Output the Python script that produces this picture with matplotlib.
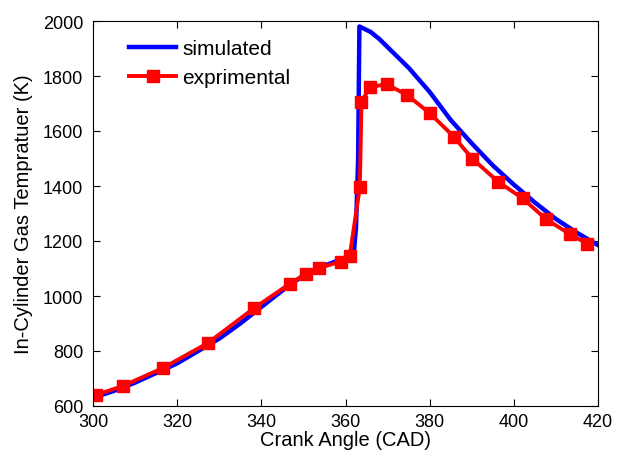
import matplotlib
matplotlib.use("Agg")
import matplotlib.pyplot as plt

# simulated in-cylinder temperature
sim_cad = [300, 305, 310, 315, 320, 325, 330, 335, 340, 345, 350, 355, 360,
           362, 362.5, 363, 363.3, 364, 366, 368, 371, 375, 380, 385, 390,
           395, 400, 405, 410, 415, 420]
sim_T = [630, 655, 685, 720, 755, 800, 845, 900, 960, 1020, 1075, 1110, 1140,
         1160, 1250, 1500, 1980, 1975, 1960, 1935, 1890, 1830, 1742, 1640, 1555,
         1475, 1405, 1340, 1280, 1230, 1185]

# experimental points
exp_cad = [300.7, 307.1, 316.6, 327.3, 338.2, 346.8, 350.6, 353.7, 358.9, 361.0,
           363.4, 363.8, 365.8, 369.8, 374.7, 380.0, 385.7, 390.1, 396.3, 402.1,
           407.6, 413.3, 417.5]
exp_T = [640, 673, 738, 829, 955, 1045, 1080, 1102, 1125, 1145,
         1395, 1705, 1760, 1770, 1730, 1665, 1580, 1500, 1415, 1355,
         1280, 1225, 1190]

plt.rcParams['font.family'] = ['Liberation Sans', 'DejaVu Sans']

fig = plt.figure(figsize=(6.25, 4.52), dpi=100)
ax = fig.add_axes([93/625, 1-407/452, 505/625, 385/452])

ax.plot(sim_cad, sim_T, color='blue', lw=3.2, label='simulated')
ax.plot(exp_cad, exp_T, color='red', lw=2.8, marker='s', ms=8.5,
        mfc='red', mec='red', label='exprimental')

ax.set_xlim(300, 420)
ax.set_ylim(600, 2000)
ax.set_xticks(range(300, 421, 20))
ax.set_yticks(range(600, 2001, 200))
ax.tick_params(direction='in', top=True, right=True, labelsize=13, length=5)
ax.tick_params(axis='y', pad=7)
ax.tick_params(axis='x', pad=5)
ax.set_xlabel('Crank Angle (CAD)', fontsize=14.5)
ax.set_ylabel('In-Cylinder Gas Tempratuer (K)', fontsize=14.5)
ax.xaxis.set_label_coords(0.5, -0.062)
ax.yaxis.set_label_coords(-0.118, 0.5)

leg = ax.legend(loc='upper left', frameon=False, fontsize=15,
                bbox_to_anchor=(0.055, 0.975), borderaxespad=0,
                handlelength=2.25, handletextpad=0.3, labelspacing=0.5)

fig.savefig('out.png', dpi=100)
